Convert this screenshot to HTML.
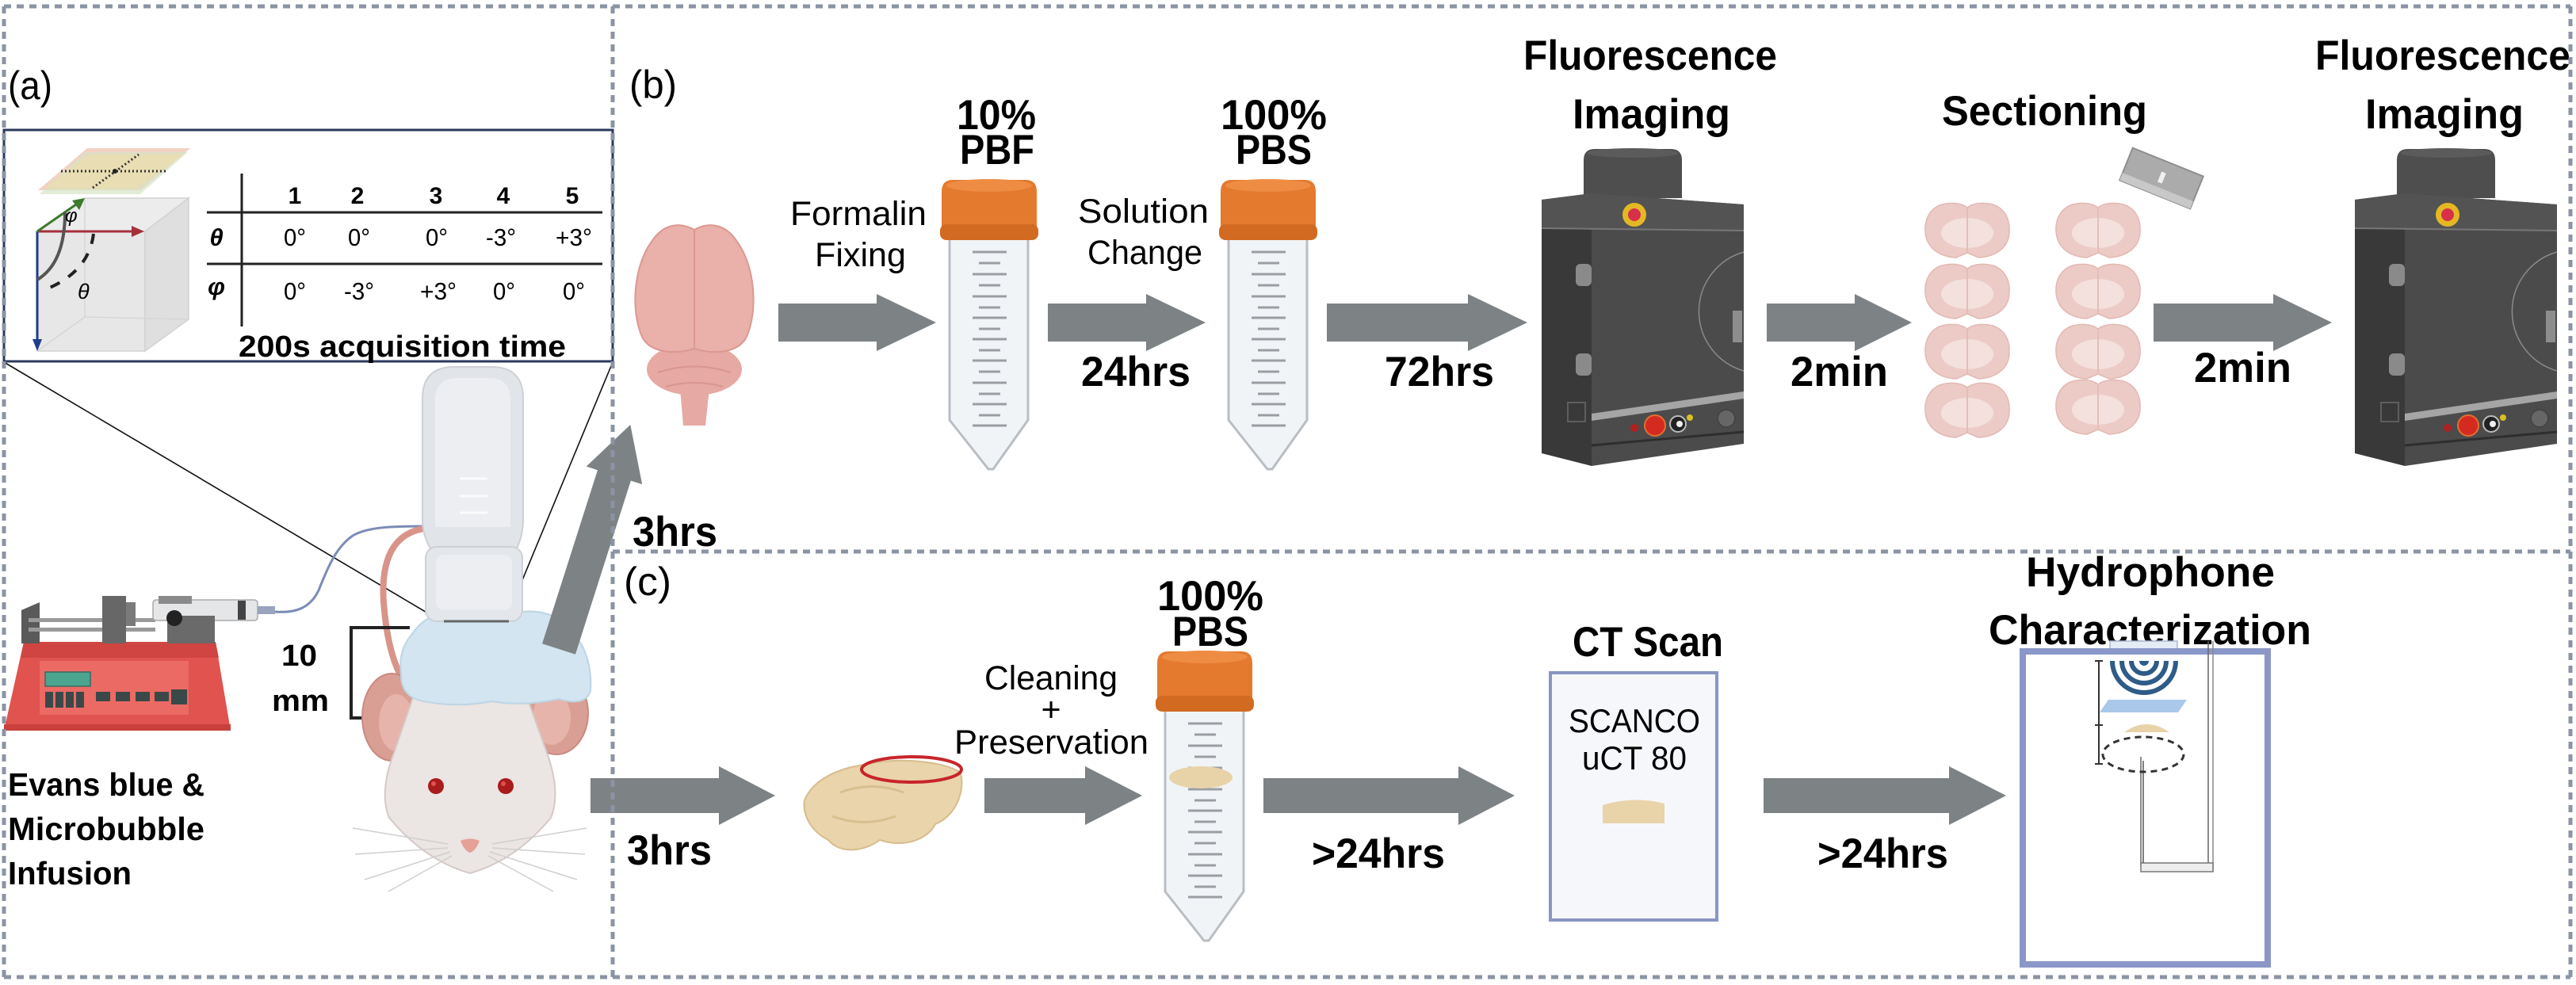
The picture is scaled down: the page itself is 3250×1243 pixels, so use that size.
<!DOCTYPE html>
<html><head><meta charset="utf-8"><style>
html,body{margin:0;padding:0;background:#fff;}
svg{display:block;}
text{font-family:"Liberation Sans",Arial,sans-serif;fill:#000;}
</style></head><body>
<svg width="3250" height="1243" viewBox="0 0 3250 1243" xmlns="http://www.w3.org/2000/svg">
<rect width="3250" height="1243" fill="#fff"/>

<!-- ============ PANEL (a) ============ -->
<text x="10" y="125" font-size="50" textLength="56" lengthAdjust="spacingAndGlyphs">(a)</text>

<!-- connector lines -->
<line x1="5" y1="457" x2="562" y2="787" stroke="#111" stroke-width="1.6"/>
<line x1="773" y1="457" x2="637" y2="785" stroke="#111" stroke-width="1.6"/>

<!-- inset box -->
<rect x="5" y="164" width="768" height="292" fill="#fff" stroke="#2b3a5e" stroke-width="3"/>

<!-- plates -->
<polygon points="110,187 240,187 178,240 48,240" fill="#f2c9b9" opacity="0.85"/>
<polygon points="107,192 237,192 177,245 50,245" fill="#d6e4c4" opacity="0.7"/>
<polygon points="112,195 232,195 172,238 56,238" fill="#eedca8" opacity="0.6"/>
<line x1="77" y1="216" x2="212" y2="216" stroke="#333" stroke-width="3" stroke-dasharray="2 3"/>
<line x1="117" y1="237" x2="175" y2="195" stroke="#333" stroke-width="3" stroke-dasharray="2 3"/>
<circle cx="145" cy="216" r="3" fill="#222"/>

<!-- cube -->
<polygon points="47,292 183,292 238,250 107,250" fill="#ececec" stroke="#d2d2d2" stroke-width="1.5"/>
<rect x="47" y="292" width="136" height="151" fill="#e7e7e7" stroke="#d2d2d2" stroke-width="1.5"/>
<polygon points="183,292 238,250 238,403 183,443" fill="#dfdfdf" stroke="#d2d2d2" stroke-width="1.5"/>
<line x1="107" y1="250" x2="107" y2="400" stroke="#d6d6d6" stroke-width="1.5"/>
<line x1="107" y1="400" x2="238" y2="403" stroke="#d6d6d6" stroke-width="1.5"/>
<line x1="107" y1="400" x2="47" y2="443" stroke="#d6d6d6" stroke-width="1.5"/>

<!-- cube arrows -->
<line x1="47" y1="292" x2="47" y2="430" stroke="#1f3d8a" stroke-width="3"/>
<polygon points="41,428 53,428 47,443" fill="#1f3d8a"/>
<line x1="47" y1="292" x2="168" y2="292" stroke="#a3303b" stroke-width="3"/>
<polygon points="166,285 166,299 182,292" fill="#a3303b"/>
<line x1="47" y1="292" x2="96" y2="258" stroke="#3d7a2c" stroke-width="3"/>
<polygon points="91,253 100,265 107,250" fill="#3d7a2c"/>
<path d="M82,268 Q82,332 47,353" fill="none" stroke="#555" stroke-width="4"/>
<path d="M118,295 Q112,345 53,367" fill="none" stroke="#222" stroke-width="4" stroke-dasharray="13 13"/>
<text x="82" y="280" font-size="24" font-style="italic">φ</text>
<text x="98" y="377" font-size="27" font-style="italic">θ</text>

<!-- table -->
<line x1="305" y1="219" x2="305" y2="412" stroke="#222" stroke-width="3"/>
<line x1="261" y1="268" x2="760" y2="268" stroke="#222" stroke-width="3"/>
<line x1="261" y1="333" x2="760" y2="333" stroke="#222" stroke-width="3"/>
<g font-size="30" font-weight="bold" text-anchor="middle">
<text x="372" y="257">1</text><text x="451" y="257">2</text><text x="550" y="257">3</text><text x="635" y="257">4</text><text x="722" y="257">5</text>
</g>
<text x="273" y="310" font-size="31" font-weight="bold" font-style="italic" text-anchor="middle">θ</text>
<text x="273" y="372" font-size="31" font-weight="bold" font-style="italic" text-anchor="middle">φ</text>
<g font-size="31" text-anchor="middle">
<text x="372" y="310" textLength="28" lengthAdjust="spacingAndGlyphs">0°</text>
<text x="453" y="310" textLength="28" lengthAdjust="spacingAndGlyphs">0°</text>
<text x="551" y="310" textLength="28" lengthAdjust="spacingAndGlyphs">0°</text>
<text x="632" y="310" textLength="38" lengthAdjust="spacingAndGlyphs">-3°</text>
<text x="724" y="310" textLength="46" lengthAdjust="spacingAndGlyphs">+3°</text>
<text x="372" y="378" textLength="28" lengthAdjust="spacingAndGlyphs">0°</text>
<text x="453" y="378" textLength="38" lengthAdjust="spacingAndGlyphs">-3°</text>
<text x="553" y="378" textLength="46" lengthAdjust="spacingAndGlyphs">+3°</text>
<text x="636" y="378" textLength="28" lengthAdjust="spacingAndGlyphs">0°</text>
<text x="724" y="378" textLength="28" lengthAdjust="spacingAndGlyphs">0°</text>
</g>
<text x="301" y="450" font-size="38" font-weight="bold" textLength="413" lengthAdjust="spacingAndGlyphs">200s acquisition time</text>

<!-- syringe pump -->
<polygon points="30,810 272,810 291,922 5,922" fill="#e0534f"/>
<polygon points="30,810 272,810 276,830 26,830" fill="#d04541"/>
<polygon points="5,914 291,914 291,922 5,922" fill="#c9403d"/>
<rect x="50" y="834" width="188" height="68" fill="#ec6a64"/>
<rect x="57" y="848" width="57" height="18" fill="#4ca58e" stroke="#3a6a60" stroke-width="1.5"/>
<g fill="#3b4848">
<rect x="57" y="873" width="10" height="20"/><rect x="70" y="873" width="10" height="20"/><rect x="83" y="873" width="10" height="20"/><rect x="96" y="873" width="10" height="20"/>
<rect x="121" y="873" width="18" height="12"/><rect x="146" y="873" width="18" height="12"/><rect x="171" y="873" width="18" height="12"/><rect x="195" y="873" width="18" height="12"/>
<rect x="216" y="870" width="20" height="19"/>
</g>
<polygon points="27,770 50,760 50,812 27,812" fill="#5a5a5a"/>
<rect x="36" y="780" width="160" height="5" fill="#9a9a9a"/>
<rect x="36" y="792" width="160" height="5" fill="#9a9a9a"/>
<rect x="129" y="752" width="30" height="60" fill="#676767"/>
<rect x="159" y="760" width="12" height="30" fill="#7a7a7a"/>
<rect x="193" y="757" width="132" height="26" rx="4" fill="#e4e6e8" stroke="#a9a9a9" stroke-width="1.5"/>
<rect x="300" y="758" width="10" height="24" fill="#444"/>
<rect x="325" y="765" width="22" height="10" fill="#9aa4c0"/>
<rect x="200" y="752" width="42" height="10" fill="#8a8a8a"/>
<rect x="211" y="777" width="60" height="35" fill="#6a6a6a"/>
<circle cx="220" cy="780" r="10" fill="#222"/>

<!-- tube + tail -->
<path d="M347,772 C375,774 392,766 402,745 C415,712 425,690 445,676 C465,664 500,664 545,664" fill="none" stroke="#7c8cb8" stroke-width="3"/>
<path d="M545,666 C500,668 480,700 484,760 C487,800 494,830 505,852" fill="none" stroke="#d9948a" stroke-width="8"/>

<!-- bracket -->
<path d="M517,792 H443 V906 H517" fill="none" stroke="#222" stroke-width="4"/>
<text x="355" y="840" font-size="38" font-weight="bold" textLength="45" lengthAdjust="spacingAndGlyphs">10</text>
<text x="343" y="897" font-size="38" font-weight="bold" textLength="72" lengthAdjust="spacingAndGlyphs">mm</text>

<!-- ears -->
<ellipse cx="494" cy="905" rx="37" ry="55" fill="#d99e94" stroke="#c98a80" stroke-width="2"/>
<ellipse cx="500" cy="912" rx="22" ry="36" fill="#e6b4ab"/>
<ellipse cx="702" cy="900" rx="40" ry="52" fill="#d99e94" stroke="#c98a80" stroke-width="2"/>
<ellipse cx="696" cy="906" rx="24" ry="34" fill="#e6b4ab"/>

<!-- head -->
<path d="M521,880 Q593,866 665,880 L690,950 Q708,1000 695,1032 Q650,1086 593,1102 Q536,1086 491,1032 Q478,1000 497,950 Z" fill="#ebe5e3" stroke="#d5c9c6" stroke-width="2"/>
<circle cx="550" cy="992" r="10" fill="#a81c1c"/>
<circle cx="638" cy="992" r="10" fill="#a81c1c"/>
<circle cx="547" cy="989" r="3" fill="#e05050"/>
<circle cx="635" cy="989" r="3" fill="#e05050"/>
<path d="M581,1061 Q593,1056 605,1061 Q600,1074 593,1076 Q586,1074 581,1061 Z" fill="#e5a098"/>
<g stroke="#cfcfcf" stroke-width="1.5">
<line x1="565" y1="1065" x2="445" y2="1045"/><line x1="565" y1="1070" x2="448" y2="1078"/><line x1="568" y1="1075" x2="460" y2="1110"/><line x1="570" y1="1080" x2="490" y2="1125"/>
<line x1="621" y1="1065" x2="740" y2="1045"/><line x1="621" y1="1070" x2="738" y2="1078"/><line x1="618" y1="1075" x2="728" y2="1110"/><line x1="616" y1="1080" x2="698" y2="1125"/>
</g>

<!-- gel -->
<path d="M520,800 Q540,770 580,772 Q620,762 660,772 Q700,768 725,800 Q748,830 745,872 Q738,892 705,882 Q660,892 620,885 Q580,893 540,886 Q505,882 506,850 Q502,820 520,800 Z" fill="#d2e5f0" stroke="#bdd5e4" stroke-width="2"/>

<!-- probe -->
<path d="M533,503 Q533,463 573,463 L620,463 Q660,463 660,503 L660,655 Q660,675 652,692 L543,692 Q533,675 533,655 Z" fill="#e1e4e8" stroke="#cdd1d6" stroke-width="2"/>
<path d="M549,505 Q549,477 577,477 L617,477 Q644,477 644,505 L644,665 L549,665 Z" fill="#eceef1"/>
<rect x="537" y="690" width="122" height="94" rx="14" fill="#e3e6ea" stroke="#cdd1d6" stroke-width="2"/>
<rect x="550" y="700" width="96" height="70" rx="10" fill="#eceef1"/>
<g stroke="#fafbfc" stroke-width="3"><line x1="580" y1="604" x2="615" y2="604"/><line x1="580" y1="626" x2="615" y2="626"/><line x1="580" y1="647" x2="615" y2="647"/></g>
<line x1="560" y1="784" x2="642" y2="784" stroke="#666" stroke-width="3"/>

<text x="10" y="1004" font-size="41" font-weight="bold" textLength="248" lengthAdjust="spacingAndGlyphs">Evans blue &amp;</text>
<text x="10" y="1060" font-size="41" font-weight="bold" textLength="248" lengthAdjust="spacingAndGlyphs">Microbubble</text>
<text x="10" y="1116" font-size="41" font-weight="bold" textLength="156" lengthAdjust="spacingAndGlyphs">Infusion</text>

<!-- diagonal arrow -->
<g transform="translate(705,819) rotate(-72.3)">
<polygon points="0,-22 230,-22 230,-37 297,0 230,37 230,22 0,22" fill="#7d8284"/>
</g>

<!-- ============ PANEL (b) ============ -->
<text x="794" y="124" font-size="50" textLength="60" lengthAdjust="spacingAndGlyphs">(b)</text>

<!-- brain -->
<ellipse cx="876" cy="466" rx="60" ry="33" fill="#e6a9a3"/>
<path d="M858,490 L895,490 L890,537 L862,537 Z" fill="#e6a9a3"/>
<path d="M876,290 C855,278 835,285 822,305 C800,335 795,390 810,425 C820,445 850,448 876,440 Z" fill="#eab0aa" stroke="#dc9892" stroke-width="2"/>
<path d="M876,290 C897,278 917,285 930,305 C952,335 957,390 942,425 C932,445 902,448 876,440 Z" fill="#eab0aa" stroke="#dc9892" stroke-width="2"/>
<path d="M830,470 Q876,455 922,470 M840,488 Q876,478 912,488" fill="none" stroke="#d9958f" stroke-width="2"/>

<!-- arrows top -->
<g fill="#7d8284">
<polygon points="982,383 1106,383 1106,371 1181,407 1106,443 1106,431 982,431"/>
<polygon points="1322,383 1446,383 1446,371 1521,407 1446,443 1446,431 1322,431"/>
<polygon points="1674,383 1852,383 1852,371 1927,407 1852,443 1852,431 1674,431"/>
<polygon points="2229,383 2340,383 2340,371 2412,407 2340,443 2340,431 2229,431"/>
<polygon points="2717,383 2868,383 2868,371 2942,407 2868,443 2868,431 2717,431"/>
</g>

<!-- tube definition -->
<g id="tube">
<path d="M1198,300 L1198,530 L1247,592 L1253,592 L1297,530 L1297,300 Z" fill="#f1f4f7" stroke="#b9bec4" stroke-width="3"/>
<g stroke="#9a9ea3" stroke-width="3">
<line x1="1227" y1="318" x2="1270" y2="318"/><line x1="1235" y1="332" x2="1262" y2="332"/>
<line x1="1227" y1="346" x2="1270" y2="346"/><line x1="1235" y1="360" x2="1262" y2="360"/>
<line x1="1227" y1="374" x2="1270" y2="374"/><line x1="1235" y1="388" x2="1262" y2="388"/>
<line x1="1227" y1="401" x2="1270" y2="401"/><line x1="1235" y1="415" x2="1262" y2="415"/>
<line x1="1227" y1="428" x2="1270" y2="428"/><line x1="1235" y1="442" x2="1262" y2="442"/>
<line x1="1227" y1="455" x2="1270" y2="455"/><line x1="1235" y1="469" x2="1262" y2="469"/>
<line x1="1227" y1="483" x2="1270" y2="483"/><line x1="1235" y1="497" x2="1262" y2="497"/>
<line x1="1227" y1="510" x2="1270" y2="510"/><line x1="1235" y1="524" x2="1262" y2="524"/>
<line x1="1227" y1="537" x2="1270" y2="537"/>
</g>
<path d="M1188,242 Q1188,227 1202,227 L1294,227 Q1308,227 1308,242 L1308,292 L1188,292 Z" fill="#e47a2e"/>
<ellipse cx="1248" cy="234" rx="54" ry="8" fill="#ef8c44"/>
<rect x="1186" y="283" width="124" height="20" rx="8" fill="#d26a22"/>
</g>
<use href="#tube" x="352" y="0"/>

<text x="1207" y="163" font-size="53" font-weight="bold" textLength="100" lengthAdjust="spacingAndGlyphs">10%</text>
<text x="1211" y="207" font-size="53" font-weight="bold" textLength="94" lengthAdjust="spacingAndGlyphs">PBF</text>
<text x="1540" y="163" font-size="53" font-weight="bold" textLength="134" lengthAdjust="spacingAndGlyphs">100%</text>
<text x="1559" y="207" font-size="53" font-weight="bold" textLength="96" lengthAdjust="spacingAndGlyphs">PBS</text>
<text x="997" y="284" font-size="43" textLength="172" lengthAdjust="spacingAndGlyphs">Formalin</text>
<text x="1028" y="336" font-size="43" textLength="115" lengthAdjust="spacingAndGlyphs">Fixing</text>
<text x="1360" y="281" font-size="43" textLength="165" lengthAdjust="spacingAndGlyphs">Solution</text>
<text x="1372" y="333" font-size="43" textLength="145" lengthAdjust="spacingAndGlyphs">Change</text>
<text x="1364" y="487" font-size="53" font-weight="bold" textLength="138" lengthAdjust="spacingAndGlyphs">24hrs</text>
<text x="1747" y="487" font-size="53" font-weight="bold" textLength="138" lengthAdjust="spacingAndGlyphs">72hrs</text>
<text x="798" y="689" font-size="53" font-weight="bold" textLength="107" lengthAdjust="spacingAndGlyphs">3hrs</text>

<!-- imaging device -->
<g id="dev">
<path d="M1998,202 Q1998,188 2012,188 L2108,188 Q2122,188 2122,202 L2122,250 L1998,250 Z" fill="#4e4e4e"/>
<ellipse cx="2060" cy="193" rx="58" ry="6" fill="#5b5b5b"/>
<polygon points="1945,252 2008,244 2008,588 1945,572" fill="#393939"/>
<polygon points="2008,244 2200,258 2200,560 2008,588" fill="#4b4b4b"/>
<polygon points="1945,252 2008,244 2200,258 2200,291 2008,290 1945,287" fill="#535353"/>
<line x1="1945" y1="288" x2="2200" y2="291" stroke="#777" stroke-width="2"/>
<circle cx="2062" cy="271" r="15" fill="#e4b824"/>
<circle cx="2062" cy="271" r="8" fill="#d6304a"/>
<path d="M2200,318 A78 78 0 0 0 2200,468" fill="none" stroke="#8a8a8a" stroke-width="1.5"/>
<rect x="2186" y="392" width="12" height="40" fill="#8d8d8d"/>
<rect x="1988" y="333" width="20" height="28" rx="6" fill="#8a8a8a"/>
<rect x="1988" y="446" width="20" height="28" rx="6" fill="#8a8a8a"/>
<rect x="1978" y="508" width="22" height="24" fill="none" stroke="#5e5e5e" stroke-width="2"/>
<polygon points="2008,522 2200,494 2200,503 2008,531" fill="#a5a5a5"/>
<line x1="2008" y1="562" x2="2200" y2="545" stroke="#2e2e2e" stroke-width="3"/>
<circle cx="2062" cy="540" r="5" fill="#b02020"/>
<circle cx="2088" cy="537" r="13" fill="#d42a20" stroke="#e07030" stroke-width="2"/>
<circle cx="2117" cy="535" r="10" fill="#222" stroke="#bbb" stroke-width="2"/>
<circle cx="2119" cy="535" r="4" fill="#eee"/>
<circle cx="2132" cy="527" r="4" fill="#d8c020"/>
<circle cx="2178" cy="528" r="11" fill="#666" stroke="#444" stroke-width="2"/>
</g>
<use href="#dev" x="1026" y="0"/>

<text x="1922" y="88" font-size="53" font-weight="bold" textLength="320" lengthAdjust="spacingAndGlyphs">Fluorescence</text>
<text x="1984" y="162" font-size="53" font-weight="bold" textLength="199" lengthAdjust="spacingAndGlyphs">Imaging</text>
<text x="2450" y="158" font-size="53" font-weight="bold" textLength="259" lengthAdjust="spacingAndGlyphs">Sectioning</text>
<text x="2259" y="487" font-size="53" font-weight="bold" textLength="123" lengthAdjust="spacingAndGlyphs">2min</text>
<text x="2768" y="482" font-size="53" font-weight="bold" textLength="123" lengthAdjust="spacingAndGlyphs">2min</text>
<text x="2921" y="88" font-size="53" font-weight="bold" textLength="322" lengthAdjust="spacingAndGlyphs">Fluorescence</text>
<text x="2984" y="162" font-size="53" font-weight="bold" textLength="200" lengthAdjust="spacingAndGlyphs">Imaging</text>

<!-- brain slices -->
<g id="sl">
<path d="M2482,262 C2474,256 2462,255 2450,258 C2434,263 2428,278 2429,292 C2430,312 2446,324 2468,325 L2482,319 L2496,325 C2518,324 2535,312 2535,292 C2536,278 2530,263 2514,258 C2502,255 2490,256 2482,262 Z" fill="#eccbc6" stroke="#e2b9b3" stroke-width="1.5"/>
<ellipse cx="2482" cy="294" rx="33" ry="19" fill="#f4e1de"/>
<line x1="2482" y1="263" x2="2482" y2="318" stroke="#e4bdb7" stroke-width="2"/>
</g>
<use href="#sl" x="0" y="77"/>
<use href="#sl" x="0" y="153"/>
<use href="#sl" x="0" y="227"/>
<use href="#sl" x="165" y="0"/>
<use href="#sl" x="165" y="77"/>
<use href="#sl" x="165" y="153"/>
<use href="#sl" x="165" y="223"/>

<!-- razor -->
<g transform="translate(2727,225) rotate(22)">
<rect x="-48" y="-22" width="96" height="44" fill="#ababab" stroke="#8e8e8e" stroke-width="2"/>
<rect x="-48" y="12" width="96" height="10" fill="#c8c8c8"/>
<rect x="-3" y="-8" width="6" height="14" fill="#f0f0f0"/>
</g>

<!-- ============ PANEL (c) ============ -->
<text x="787" y="751" font-size="50" textLength="60" lengthAdjust="spacingAndGlyphs">(c)</text>

<g fill="#7d8284">
<polygon points="745,982 907,982 907,967 978,1004 907,1041 907,1026 745,1026"/>
<polygon points="1242,982 1369,982 1369,967 1441,1004 1369,1041 1369,1026 1242,1026"/>
<polygon points="1594,982 1840,982 1840,967 1911,1004 1840,1041 1840,1026 1594,1026"/>
<polygon points="2225,982 2459,982 2459,967 2531,1004 2459,1041 2459,1026 2225,1026"/>
</g>

<!-- skull -->
<path d="M1090,965 C1130,955 1190,960 1212,975 C1218,1000 1205,1030 1180,1040 C1170,1060 1140,1070 1110,1060 C1090,1075 1060,1078 1045,1060 C1025,1050 1012,1030 1015,1010 C1025,985 1055,970 1090,965 Z" fill="#e9d4ab" stroke="#d6bd8c" stroke-width="2"/>
<path d="M1060,1000 Q1100,985 1140,1000 M1050,1030 Q1090,1045 1130,1030" fill="none" stroke="#d8bf90" stroke-width="3"/>
<ellipse cx="1150" cy="971" rx="63" ry="16" fill="none" stroke="#c8252a" stroke-width="4"/>

<use href="#tube" x="272" y="595"/>
<ellipse cx="1515" cy="981" rx="40" ry="14" fill="#e8d3a9"/>

<text x="791" y="1091" font-size="53" font-weight="bold" textLength="107" lengthAdjust="spacingAndGlyphs">3hrs</text>
<text x="1242" y="870" font-size="43" textLength="168" lengthAdjust="spacingAndGlyphs">Cleaning</text>
<text x="1326" y="910" font-size="43" text-anchor="middle">+</text>
<text x="1204" y="951" font-size="43" textLength="245" lengthAdjust="spacingAndGlyphs">Preservation</text>
<text x="1460" y="770" font-size="53" font-weight="bold" textLength="134" lengthAdjust="spacingAndGlyphs">100%</text>
<text x="1479" y="815" font-size="53" font-weight="bold" textLength="96" lengthAdjust="spacingAndGlyphs">PBS</text>
<text x="1655" y="1095" font-size="53" font-weight="bold" textLength="168" lengthAdjust="spacingAndGlyphs">&gt;24hrs</text>

<!-- CT -->
<text x="1984" y="828" font-size="53" font-weight="bold" textLength="190" lengthAdjust="spacingAndGlyphs">CT Scan</text>
<rect x="1956" y="849" width="210" height="312" fill="#f5f7fb" stroke="#8896c4" stroke-width="4"/>
<text x="1979" y="924" font-size="42" textLength="166" lengthAdjust="spacingAndGlyphs">SCANCO</text>
<text x="1996" y="971" font-size="42" textLength="132" lengthAdjust="spacingAndGlyphs">uCT 80</text>
<path d="M2022,1016 Q2060,1004 2100,1014 L2100,1039 L2022,1039 Z" fill="#e9d3a9"/>
<text x="2293" y="1095" font-size="53" font-weight="bold" textLength="165" lengthAdjust="spacingAndGlyphs">&gt;24hrs</text>

<!-- hydrophone -->
<text x="2556" y="740" font-size="53" font-weight="bold" textLength="314" lengthAdjust="spacingAndGlyphs">Hydrophone</text>
<text x="2509" y="813" font-size="53" font-weight="bold" textLength="407" lengthAdjust="spacingAndGlyphs">Characterization</text>
<rect x="2662" y="809" width="85" height="15" fill="#e4edf6" stroke="#a9b8d0" stroke-width="1.5"/>
<rect x="2552" y="822" width="309" height="395" fill="#fff" stroke="#8a97c8" stroke-width="8"/>
<line x1="2786" y1="809" x2="2786" y2="1100" stroke="#666" stroke-width="1.5"/>
<line x1="2792" y1="809" x2="2792" y2="1100" stroke="#888" stroke-width="1.5"/>
<line x1="2701" y1="955" x2="2701" y2="1092" stroke="#666" stroke-width="1.5"/>
<rect x="2701" y="1089" width="91" height="11" fill="#eee" stroke="#777" stroke-width="1.5"/>
<line x1="2704" y1="960" x2="2704" y2="1089" stroke="#555" stroke-width="1.5"/>
<g fill="none" stroke="#2e5b88" stroke-width="6">
<path d="M2665,834 A40 40 0 0 0 2745,834"/>
<path d="M2677,834 A28 28 0 0 0 2733,834"/>
<path d="M2689,834 A16 16 0 0 0 2721,834"/>
</g>
<path d="M2699,834 A6 6 0 0 0 2711,834 Z" fill="#2e5b88"/>
<polygon points="2660,883 2759,883 2748,899 2649,899" fill="#a9c8ea"/>
<path d="M2680,924 Q2708,904 2737,924 Z" fill="#e8d2a8"/>
<ellipse cx="2704" cy="952" rx="51" ry="22" fill="none" stroke="#333" stroke-width="3" stroke-dasharray="8 6"/>
<line x1="2648" y1="834" x2="2648" y2="964" stroke="#333" stroke-width="2"/>
<line x1="2643" y1="834" x2="2653" y2="834" stroke="#333" stroke-width="2"/>
<line x1="2643" y1="915" x2="2653" y2="915" stroke="#333" stroke-width="2"/>
<line x1="2643" y1="964" x2="2653" y2="964" stroke="#333" stroke-width="2"/>

<!-- ============ dashed frame ============ -->
<g fill="none" stroke="#8b94a4" stroke-width="5" stroke-dasharray="9 7">
<path d="M5,8 H3243"/>
<path d="M5,1233 H3243"/>
<path d="M5,8 V1233"/>
<path d="M3243,8 V1233"/>
<path d="M773,8 V1233"/>
<path d="M773,696 H3243"/>
</g>
</svg>
</body></html>
